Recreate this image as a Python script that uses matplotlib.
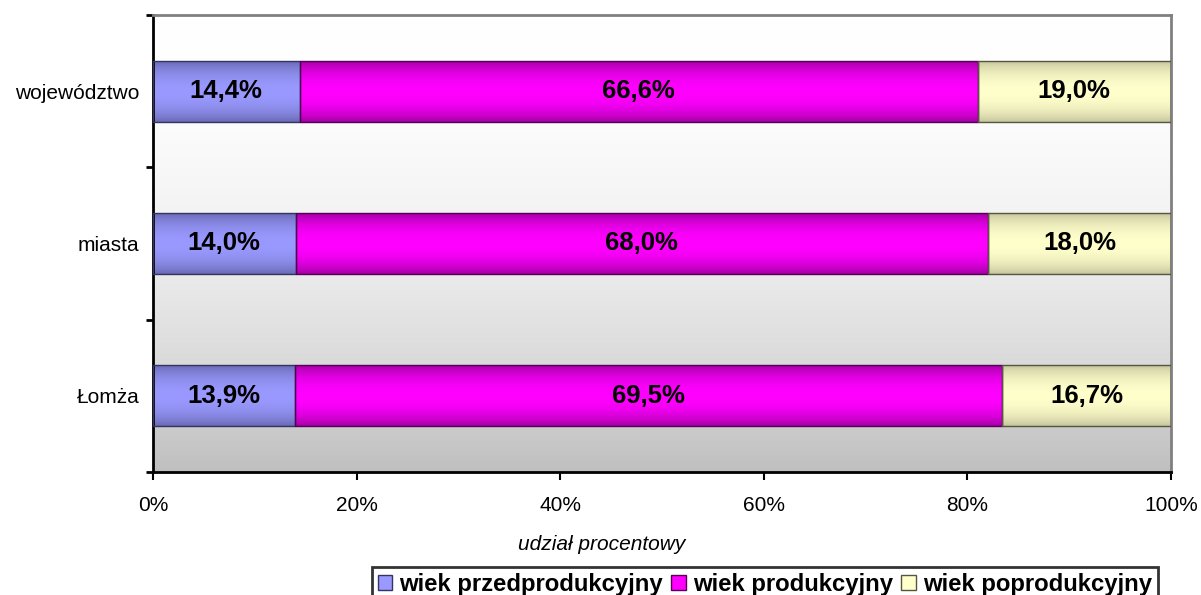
import numpy as np
import matplotlib
matplotlib.use('Agg')
import matplotlib.pyplot as plt
from matplotlib.patches import Patch
from matplotlib.colors import to_rgb

plt.rcParams['font.family'] = ['Liberation Sans', 'DejaVu Sans']

categories = ['województwo', 'miasta', 'Łomża']
przed = [14.4, 14.0, 13.9]
prod = [66.6, 68.0, 69.5]
popr = [19.0, 18.0, 16.7]
series_names = ['wiek przedprodukcyjny', 'wiek produkcyjny', 'wiek poprodukcyjny']
x_ticks = [0, 20, 40, 60, 80, 100]

centre_cols = ['#9999ff', '#ff00ff', '#ffffcc']
edge_cols = ['#6868b0', '#a000a0', '#c4c49c']
line_cols = ['#333366', '#550055', '#555540']

fig = plt.figure(figsize=(12.01, 5.95), dpi=100)
ax = fig.add_axes([153/1201, 1-472/595, (1171-153)/1201, (472-15)/595])

# background gradient: white at top, grey at bottom
t = np.linspace(0, 1, 256)
g = 1 - 0.25*t**2
bg = np.dstack([g, g, g]).reshape(256, 1, 3)
ax.imshow(bg, extent=[0, 100, -0.5, 2.5], aspect='auto', origin='upper', zorder=0)

ypos = np.arange(len(categories))[::-1]
data = [przed, prod, popr]
lefts = np.zeros(len(categories))
bh = 0.4
tt = np.linspace(0, 1, 64)
prof = np.sin(np.pi*tt)**0.7
for k, vals in enumerate(data):
    vals = np.array(vals)
    c0 = np.array(to_rgb(edge_cols[k]))
    c1 = np.array(to_rgb(centre_cols[k]))
    grad = (c0[None, :] + (c1 - c0)[None, :]*prof[:, None]).reshape(64, 1, 3)
    for i in range(len(categories)):
        l = lefts[i]
        w = min(vals[i], 100 - l)
        ax.imshow(grad, extent=[l, l+w, ypos[i]-bh/2, ypos[i]+bh/2],
                  aspect='auto', zorder=2)
        ax.text(l + w/2, ypos[i], ('%.1f%%' % vals[i]).replace('.', ','),
                ha='center', va='center', fontsize=18.5, fontweight='bold', zorder=4)
    ax.barh(ypos, np.minimum(vals, 100 - lefts), left=lefts, height=bh,
            facecolor='none', edgecolor=line_cols[k], linewidth=1, zorder=3)
    lefts = lefts + vals

ax.set_xlim(0, 100)
ax.set_ylim(-0.5, 2.5)
ax.set_xticks(x_ticks)
ax.set_xticklabels(['%d%%' % v for v in x_ticks], fontsize=15)
ax.set_yticks([-0.5, 0.5, 1.5, 2.5])
ax.set_yticklabels([])
ax.set_yticks(ypos, minor=True)
ax.set_yticklabels(categories, minor=True, fontsize=15)
ax.tick_params(axis='y', which='minor', length=0, pad=10)
ax.tick_params(axis='y', which='major', length=5, width=2, direction='out')
ax.tick_params(axis='x', length=6, width=1.5, direction='out', pad=11)

for s in ['left', 'bottom']:
    ax.spines[s].set_color('black')
    ax.spines[s].set_linewidth(2)
for s in ['top', 'right']:
    ax.spines[s].set_color('#808080')
    ax.spines[s].set_linewidth(2)

fig.text(602/1201, 1-545/595, 'udział procentowy', ha='center', va='center',
         fontsize=15, style='italic')

handles = [Patch(facecolor=centre_cols[k], edgecolor=line_cols[k]) for k in range(3)]
leg = fig.legend(handles, series_names, loc='upper left', ncol=3,
                 bbox_to_anchor=(372/1201, 1-567/595),
                 prop={'weight': 'bold', 'size': 17.2},
                 frameon=True, fancybox=False, edgecolor='black',
                 handlelength=0.6, handleheight=0.6, handletextpad=0.3,
                 columnspacing=0.35, borderpad=0.25, borderaxespad=0)
leg.get_frame().set_linewidth(2)

fig.savefig('out.png', dpi=100)
